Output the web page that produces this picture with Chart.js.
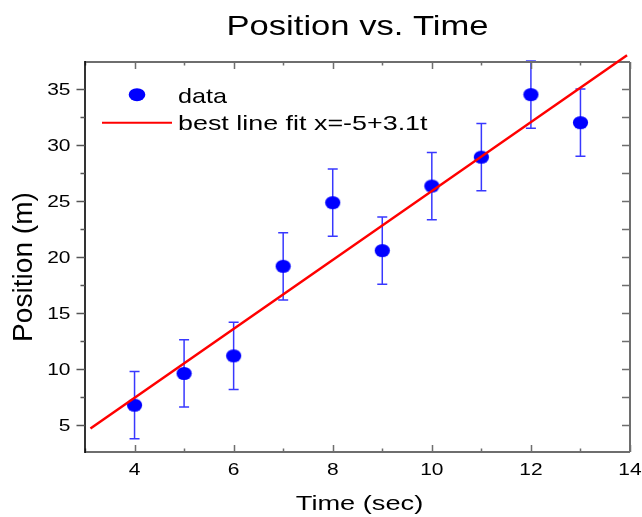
<!DOCTYPE html>
<html>
<head>
<meta charset="utf-8">
<script src="https://cdn.jsdelivr.net/npm/chart.js@4.4.1/dist/chart.umd.min.js"></script>
<style>
  html, body { margin: 0; padding: 0; background: #ffffff; }
  #wrap { width: 642px; height: 517px; }
</style>
</head>
<body>
<div id="wrap"><canvas id="c" width="642" height="517"></canvas></div>
<script>
// ---- data ----
const timeValues = [4, 5, 6, 7, 8, 9, 10, 11, 12, 13];
const positionValues = [6.78, 9.61, 11.18, 19.17, 24.85, 20.57, 26.33, 28.91, 34.49, 31.99];
const positionErrors = [3, 3, 3, 3, 3, 3, 3, 3, 3, 3];
const fitTime = [3.11, 13.94];
const fitPosition = [4.7, 38.0];

const xMajorTicks = [4, 6, 8, 10, 12, 14];
const xMinorTicks = [3, 5, 7, 9, 11, 13];
const yMajorTicks = [5, 10, 15, 20, 25, 30, 35];
const yMinorTicks = [7.5, 12.5, 17.5, 22.5, 27.5, 32.5];

const chartTitle = 'Position vs. Time';
const xAxisTitle = 'Time (sec)';
const yAxisTitle = 'Position (m)';
const legendLabels = ['data', 'best line fit x=-5+3.1t'];

// ---- styling ----
const FONT = '"Liberation Sans", Arial, Helvetica, sans-serif';
const SX = 1.31; // horizontal widening of the reference lettering
const BLUE = '#0000ff';
const RED = '#ff0000';

function stretchedText(ctx, str, x, y, size, align, baseline, sx, rot) {
  ctx.save();
  ctx.translate(x, y);
  if (rot) ctx.rotate(rot);
  ctx.scale(sx, 1);
  ctx.font = size + 'px ' + FONT;
  ctx.fillStyle = '#000000';
  ctx.textAlign = align;
  ctx.textBaseline = baseline;
  ctx.fillText(str, 0, 0);
  ctx.restore();
}

// elliptical marker like the reference
const marker = document.createElement('canvas');
marker.width = 17; marker.height = 15;
(function () {
  const m = marker.getContext('2d');
  m.fillStyle = BLUE;
  m.beginPath();
  m.ellipse(8.5, 7.5, 7.6, 6.6, 0, 0, Math.PI * 2);
  m.fill();
})();

const errorBarPlugin = {
  id: 'errorBars',
  beforeDatasetsDraw(chart) {
    const ctx = chart.ctx, xs = chart.scales.x, ys = chart.scales.y;
    ctx.save();
    ctx.strokeStyle = 'rgba(0,0,255,0.78)';
    ctx.lineWidth = 1.5;
    timeValues.forEach((t, i) => {
      const px = xs.getPixelForValue(t);
      const top = ys.getPixelForValue(positionValues[i] + positionErrors[i]);
      const bot = ys.getPixelForValue(positionValues[i] - positionErrors[i]);
      ctx.beginPath();
      ctx.moveTo(px, top); ctx.lineTo(px, bot);
      ctx.moveTo(px - 5, top); ctx.lineTo(px + 5, top);
      ctx.moveTo(px - 5, bot); ctx.lineTo(px + 5, bot);
      ctx.stroke();
    });
    ctx.restore();
  }
};

const framePlugin = {
  id: 'frame',
  beforeDatasetsDraw(chart) {
    const ctx = chart.ctx, a = chart.chartArea, xs = chart.scales.x, ys = chart.scales.y;
    ctx.save();
    // grey top/bottom/right axes
    ctx.strokeStyle = '#6e6e6e';
    ctx.lineWidth = 2;
    ctx.beginPath();
    ctx.moveTo(a.left, a.top); ctx.lineTo(a.right, a.top);
    ctx.moveTo(a.left, a.bottom); ctx.lineTo(a.right, a.bottom);
    ctx.moveTo(a.right, a.top); ctx.lineTo(a.right, a.bottom);
    ctx.stroke();
    // ticks
    ctx.lineWidth = 1.5;
    ctx.beginPath();
    xMajorTicks.forEach(v => {
      const p = Math.round(xs.getPixelForValue(v)) + 0.5;
      ctx.moveTo(p, a.bottom); ctx.lineTo(p, a.bottom - 7);
      ctx.moveTo(p, a.top); ctx.lineTo(p, a.top + 7);
    });
    xMinorTicks.forEach(v => {
      const p = Math.round(xs.getPixelForValue(v)) + 0.5;
      ctx.moveTo(p, a.bottom); ctx.lineTo(p, a.bottom - 3.5);
      ctx.moveTo(p, a.top); ctx.lineTo(p, a.top + 3.5);
    });
    yMajorTicks.concat(yMinorTicks).forEach(v => {
      const p = Math.round(ys.getPixelForValue(v)) + 0.5;
      ctx.moveTo(a.right, p); ctx.lineTo(a.right - 8, p);
    });
    ctx.stroke();
    // black left axis with outward ticks
    ctx.strokeStyle = '#000000';
    ctx.lineWidth = 1.6;
    ctx.beginPath();
    ctx.moveTo(a.left, a.top - 1); ctx.lineTo(a.left, a.bottom + 1);
    ctx.stroke();
    ctx.strokeStyle = '#555555';
    ctx.lineWidth = 1.4;
    ctx.beginPath();
    yMajorTicks.forEach(v => {
      const p = Math.round(ys.getPixelForValue(v)) + 0.5;
      ctx.moveTo(a.left, p); ctx.lineTo(a.left - 8.5, p);
    });
    yMinorTicks.forEach(v => {
      const p = Math.round(ys.getPixelForValue(v)) + 0.5;
      ctx.moveTo(a.left, p); ctx.lineTo(a.left - 4.5, p);
    });
    ctx.stroke();
    ctx.restore();
  },
  afterDraw(chart) {
    const ctx = chart.ctx, a = chart.chartArea, xs = chart.scales.x, ys = chart.scales.y;
    const cx = (a.left + a.right) / 2;
    // tick labels
    xMajorTicks.forEach(v => {
      stretchedText(ctx, String(v), xs.getPixelForValue(v), a.bottom + 23, 16, 'center', 'alphabetic', SX);
    });
    yMajorTicks.forEach(v => {
      stretchedText(ctx, String(v), a.left - 14.5, ys.getPixelForValue(v) + 6, 16, 'right', 'alphabetic', SX);
    });
    // titles
    stretchedText(ctx, chartTitle, cx, 35, 28, 'center', 'alphabetic', 1.235);
    stretchedText(ctx, xAxisTitle, cx + 2, 510, 20, 'center', 'alphabetic', 1.36);
    stretchedText(ctx, yAxisTitle, 32, (a.top + a.bottom) / 2 + 10, 27, 'center', 'alphabetic', 1.04, -Math.PI / 2);
    // legend
    ctx.save();
    ctx.fillStyle = BLUE;
    ctx.beginPath();
    ctx.ellipse(137, 94.7, 8.3, 6.5, 0, 0, Math.PI * 2);
    ctx.fill();
    ctx.strokeStyle = RED;
    ctx.lineWidth = 2;
    ctx.beginPath();
    ctx.moveTo(102, 122.7); ctx.lineTo(172, 122.7);
    ctx.stroke();
    ctx.restore();
    stretchedText(ctx, legendLabels[0], 178, 103.3, 21, 'left', 'alphabetic', 1.2);
    stretchedText(ctx, legendLabels[1], 178, 130, 21, 'left', 'alphabetic', 1.28);
  }
};

new Chart(document.getElementById('c'), {
  data: {
    datasets: [
      {
        type: 'line',
        label: legendLabels[1],
        data: fitTime.map((t, i) => ({ x: t, y: fitPosition[i] })),
        borderColor: RED,
        borderWidth: 2.5,
        pointRadius: 0,
        fill: false,
        clip: false
      },
      {
        type: 'scatter',
        label: legendLabels[0],
        data: timeValues.map((t, i) => ({ x: t, y: positionValues[i] })),
        pointStyle: marker,
        pointRadius: 7,
        backgroundColor: BLUE,
        borderColor: BLUE,
        clip: false
      }
    ]
  },
  options: {
    responsive: false,
    animation: false,
    events: [],
    layout: { padding: { top: 62, right: 12, left: 0, bottom: 0 } },
    plugins: {
      legend: { display: false },
      title: { display: false },
      tooltip: { enabled: false }
    },
    scales: {
      x: {
        type: 'linear',
        min: 3, max: 14,
        grid: { display: false },
        border: { display: false },
        ticks: { display: false },
        afterFit(s) { s.height = 65; }
      },
      y: {
        type: 'linear',
        min: 2.6, max: 37.4,
        grid: { display: false },
        border: { display: false },
        ticks: { display: false },
        afterFit(s) { s.width = 85; }
      }
    }
  },
  plugins: [errorBarPlugin, framePlugin]
});
</script>
</body>
</html>
